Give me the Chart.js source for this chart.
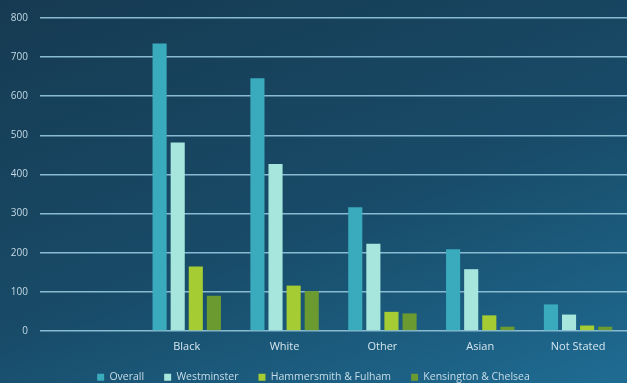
<!DOCTYPE html>
<html>
<head>
<meta charset="utf-8">
<script src="https://cdn.jsdelivr.net/npm/chart.js@4"></script>
<style>
  html, body { margin: 0; padding: 0; }
  body {
    width: 627px; height: 383px; overflow: hidden;
    background: linear-gradient(160deg, #163a52 0%, #184b68 55%, #1f6c93 100%);
  }
  #wrap { position: relative; width: 627px; height: 383px; }
</style>
</head>
<body>
<div id="wrap"><canvas id="ethnicityChart"></canvas></div>
<script>
// first slot is left blank, the groups start one category in
const groups = ['', 'Black', 'White', 'Other', 'Asian', 'Not Stated'];
const overall = [null, 735, 646, 316, 209, 68];
const westminster = [null, 482, 427, 223, 158, 42];
const hammersmithFulham = [null, 165, 116, 49, 40, 14];
const kensingtonChelsea = [null, 90, 102, 45, 11, 11];
const yTicks = [0, 100, 200, 300, 400, 500, 600, 700, 800];

function series(label, data, colour) {
    return {
        label: label,
        data: data,
        backgroundColor: colour,
        borderWidth: 0,
        categoryPercentage: 0.74,
        barPercentage: 0.78
    };
}

// keep the legend strip short while leaving wide gaps between its items
const legendHeight = {
    id: 'legendHeight',
    beforeInit(chart) {
        const fit = chart.legend.fit;
        chart.legend.fit = function () {
            fit.bind(chart.legend)();
            this.height = 31;
        };
    }
};

const ctx = document.getElementById('ethnicityChart').getContext('2d');
new Chart(ctx, {
    type: 'bar',
    data: {
        labels: groups,
        datasets: [
            series('Overall', overall, '#3aaabd'),
            series('Westminster', westminster, '#a6e6dc'),
            series('Hammersmith & Fulham', hammersmithFulham, '#a5cd33'),
            series('Kensington & Chelsea', kensingtonChelsea, '#6b9a30')
        ]
    },
    plugins: [legendHeight],
    options: {
        responsive: true,
        maintainAspectRatio: false,
        animation: false,
        layout: { padding: { top: 10, right: 0, left: 0, bottom: 0 } },
        plugins: {
            tooltip: { enabled: false },
            legend: {
                position: 'bottom',
                labels: {
                    color: '#c6dde8',
                    font: { family: 'Open Sans', size: 10.5 },
                    boxWidth: 7,
                    boxHeight: 7,
                    padding: 20
                }
            }
        },
        scales: {
            x: {
                grid: { display: false, drawTicks: false },
                border: { display: false },
                afterFit: axis => { axis.height = 21; },
                ticks: {
                    color: '#d4e6ee',
                    font: { family: 'Open Sans', size: 11 },
                    padding: 9
                }
            },
            y: {
                min: 0,
                max: 800,
                afterBuildTicks: axis => { axis.ticks = yTicks.map(v => ({ value: v })); },
                afterFit: axis => { axis.width = 40; },
                grid: { color: '#88bbd1', lineWidth: 1.6, drawTicks: false },
                border: { display: false },
                ticks: {
                    color: '#c3d9e4',
                    font: { family: 'Open Sans', size: 10 },
                    padding: 12
                }
            }
        }
    }
});
</script>
</body>
</html>
